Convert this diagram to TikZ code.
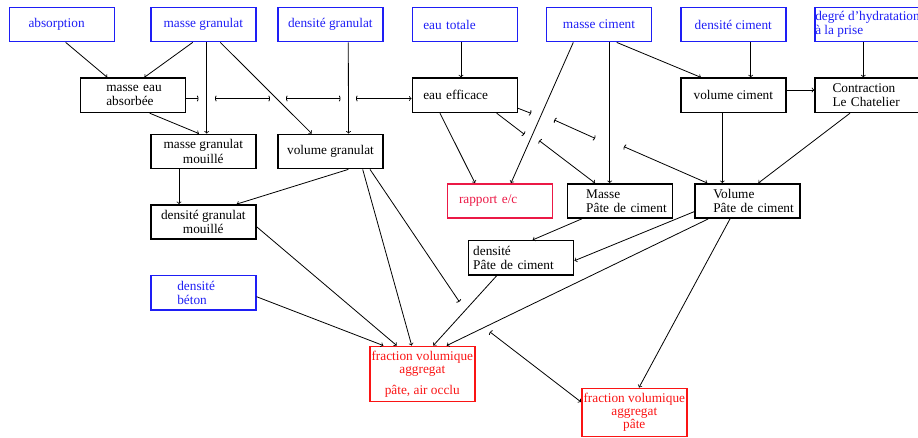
\documentclass[tikz,border=0pt]{standalone}
\usepackage{fontspec}
\setmainfont{Liberation Serif}
\usepackage{tikz}
\usetikzlibrary{arrows.meta}
\definecolor{bleu}{RGB}{30,30,245}
\definecolor{rouge}{RGB}{250,20,20}
\definecolor{rose}{RGB}{235,25,70}

\tikzset{
  boite/.style={draw, line width=1.5pt, minimum width=105pt, minimum height=34.3pt,
    inner xsep=0pt, inner ysep=2pt, font=\fontsize{13.3}{14.5}\selectfont,
    execute at begin node={\hyphenpenalty=10000\exhyphenpenalty=10000}},
  entree/.style={boite, draw=bleu, text=bleu},
  sortie/.style={boite, draw=rouge, text=rouge},
  lien/.style={line width=0.8pt},
  jp/.tip={Parenthesis[width=7pt, length=2pt]}
}

\begin{document}
\begin{tikzpicture}[x=1pt, y=-1pt, >=to]
\useasboundingbox (0,0) rectangle (918,438);

% donnees
\node[entree, text width=67pt, align=left] (abs) at (62,24.5) {absorption};
\node[entree] (mg) at (203.3,24.5) {masse granulat};
\node[entree] (dg) at (330.3,24.5) {densité granulat};
\node[entree, text width=83pt, align=left] (et) at (464.8,24.5) {eau totale};
\node[entree] (mc) at (599,24.5) {masse ciment};
\node[entree] (dc) at (733.3,24.5) {densité ciment};
\node[entree, align=left] (dh) at (867.5,24.5) {degré~d'hydratation\\à~la~prise};

% calculs
\node[boite, text width=53pt, align=left] (mea) at (132.8,95.3) {masse~eau\\absorbée};
\node[boite, text width=83pt, align=left] (ee) at (464.8,95.3) {eau~efficace};
\node[boite] (vc) at (733.3,95.3) {volume ciment};
\node[boite, text width=70pt, align=left] (clc) at (867.5,95.3) {Contraction\\Le~Chatelier};
\node[boite, align=center] (mgm) at (203.3,151.5) {masse granulat\\mouillé};
\node[boite] (vg) at (330.5,151.5) {volume granulat};
\node[boite, draw=rose, text=rose, text width=82pt, align=left] (rec) at (500,201) {rapport~e/c};
\node[boite, text width=68pt, align=left] (mp) at (620.2,201) {Masse\\Pâte~de~ciment};
\node[boite, text width=68pt, align=left] (vp) at (747.3,201) {Volume\\Pâte~de~ciment};
\node[boite, align=center] (dgm) at (203.3,222) {densité granulat\\mouillé};
\node[boite, text width=96pt, align=left] (dp) at (521.2,257.8) {densité\\Pâte~de~ciment};
\node[entree, text width=52pt, align=left] (db) at (203.3,292.8) {densité\\béton};

% resultats
\node[sortie, minimum height=55.4pt, align=center] (fva) at (422.3,374)
  {fraction volumique\\[-1.5pt]aggregat\\[7pt]pâte, air occlu};
\node[sortie, minimum height=48.4pt, align=center] (fvp) at (634.3,412.5)
  {fraction volumique\\[-1.5pt]aggregat\\[-1.5pt]pâte};

% points de saut
\coordinate (s1) at (198.5,98.5);
\coordinate (s2) at (215,98.5);
\coordinate (s3) at (270,98.5);
\coordinate (s4) at (286,98.5);
\coordinate (s5) at (340.5,98.5);
\coordinate (s6) at (356,98.5);
\coordinate (m1) at (524.3,134.3);
\coordinate (m2) at (539.3,140.7);
\coordinate (v1) at (531,113.3);
\coordinate (v2) at (554.3,120);
\coordinate (v3) at (595,138.3);
\coordinate (v4) at (624,146.7);
\coordinate (g1) at (459.3,301.7);
\coordinate (g2) at (490,332);

% granulat
\draw[lien,->] ([xshift=3.7pt]abs.south) -- ([xshift=-25.5pt]mea.north);
\draw[lien,->] ([xshift=-10.6pt]mg.south) -- ([xshift=11.5pt]mea.north);
\draw[lien,->] ([xshift=3.4pt]mg.south) -- ([xshift=3.4pt]mgm.north);
\draw[lien,->] ([xshift=17pt]mg.south) -- ([xshift=-18.8pt]vg.north);
\draw[lien,->] ([xshift=18pt]dg.south) -- ([xshift=18pt]vg.north);
\draw[lien,->] ([xshift=16.9pt]mea.south) -- ([xshift=-4.3pt]mgm.north);
\draw[lien,-jp] ([yshift=-3.2pt]mea.east) -- (s1);
\draw[lien,jp-jp] (s2) -- (s3);
\draw[lien,jp-jp] (s4) -- (s5);
\draw[lien,jp->] (s6) -- ([yshift=-3.2pt]ee.west);
\draw[lien,->] ([xshift=-24.3pt]mgm.south) -- ([xshift=-24.3pt]dgm.north);
\draw[lien,->] ([xshift=17.8pt]vg.south) -- ([xshift=33.4pt]dgm.north);

% eau et ciment
\draw[lien,->] ([xshift=-3.8pt]et.south) -- ([xshift=-3.8pt]ee.north);
\draw[lien,->] ([xshift=-24.8pt]ee.south) -- ([xshift=-25pt]rec.north);
\draw[lien,->] ([xshift=-25.7pt]mc.south) -- ([xshift=11pt]rec.north);
\draw[lien,->] ([xshift=10.7pt]mc.south) -- ([xshift=-10.5pt]mp.north);
\draw[lien,->] ([xshift=17.7pt]mc.south) -- ([xshift=-32.3pt]vc.north);
\draw[lien,->] ([xshift=17.4pt]dc.south) -- ([xshift=17.4pt]vc.north);
\draw[lien,->] ([xshift=-4.2pt]dh.south) -- ([xshift=-4.2pt]clc.north);
\draw[lien,->] ([yshift=5.3pt]vc.east) -- ([yshift=5.3pt]clc.west);
\draw[lien,->] ([xshift=-11pt]vc.south) -- ([xshift=-25pt]vp.north);
\draw[lien,->] ([xshift=-17.5pt]clc.south) -- ([xshift=11pt]vp.north);
\draw[lien,-jp] ([xshift=31.9pt]ee.south) -- (m1);
\draw[lien,jp->] (m2) -- ([xshift=-25.2pt]mp.north);
\draw[lien,-jp] ([yshift=-13pt]ee.east) -- (v1);
\draw[lien,jp-jp] (v2) -- (v3);
\draw[lien,jp->] (v4) -- ([xshift=-40pt]vp.north);
\draw[lien,->] ([xshift=-38.5pt]mp.south) -- ([xshift=11.5pt]dp.north);
\draw[lien,->] ([yshift=-10.7pt]vp.west) -- ([yshift=-2.9pt]dp.east);

% fractions volumiques
\draw[lien,->] ([xshift=-39pt]vp.south) -- ([xshift=24.4pt]fva.north);
\draw[lien,->] ([xshift=-17.3pt]vp.south) -- ([xshift=4.7pt]fvp.north);
\draw[lien,->] ([yshift=-4.7pt]dgm.east) -- ([xshift=-25.6pt]fva.north);
\draw[lien,->] ([xshift=32.2pt]vg.south) -- ([xshift=-10.6pt]fva.north);
\draw[lien,-jp] ([xshift=39.5pt]vg.south) -- (g1);
\draw[lien,jp->] (g2) -- ([yshift=10.5pt]fvp.west);
\draw[lien,->] ([xshift=-24.5pt]dp.south) -- ([xshift=11pt]fva.north);
\draw[lien,->] ([yshift=-3.9pt]db.east) -- ([xshift=-39pt]fva.north);
\end{tikzpicture}
\end{document}
